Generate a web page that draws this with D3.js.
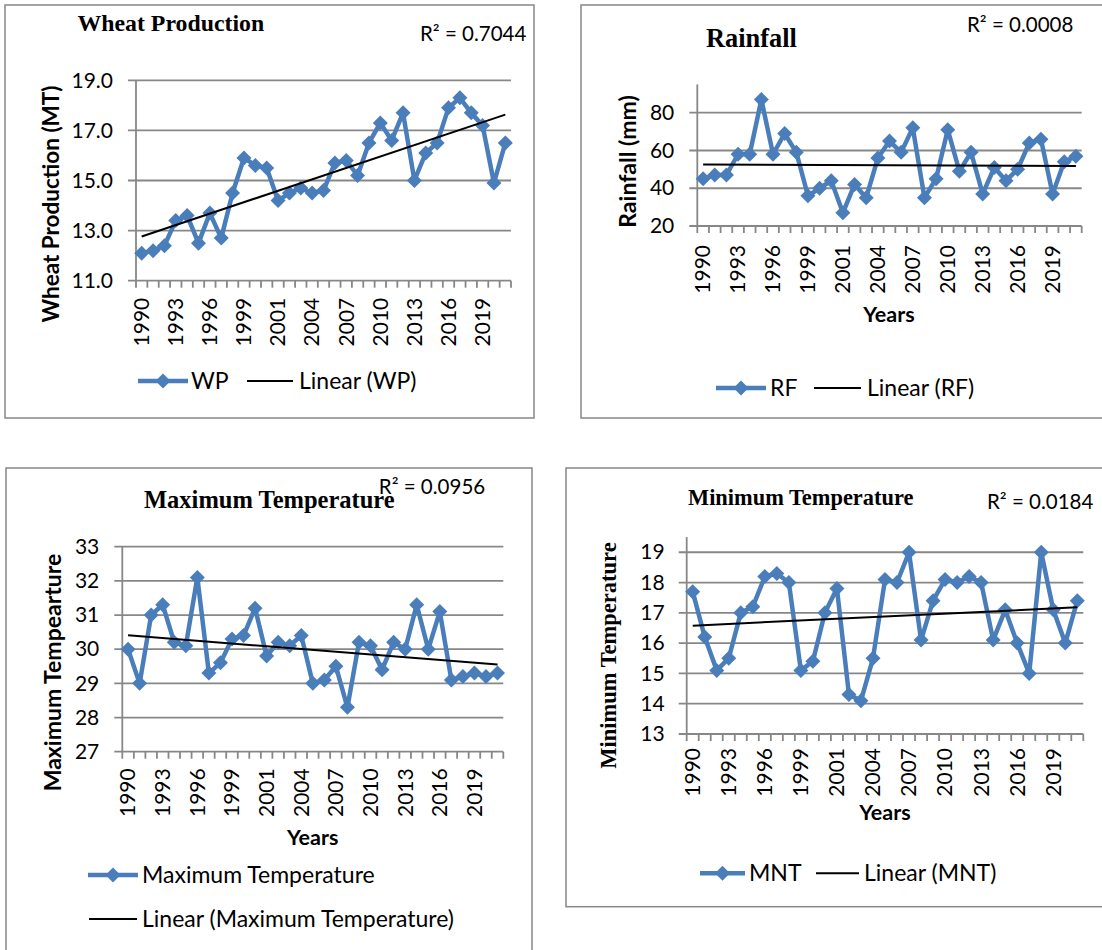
<!DOCTYPE html>
<html><head><meta charset="utf-8">
<script src="https://cdn.jsdelivr.net/npm/d3@7"></script>
<style>body{margin:0;background:#fff} svg{display:block}</style>
</head><body>
<svg id="c" width="1102" height="950"></svg>
<script>
// ---------- data ----------
const years = ["1990","1991","1992","1993","1994","1995","1996","1997","1998","1999","2000","2000",
  "2001","2002","2003","2004","2005","2006","2007","2008","2009","2010","2011","2012","2013","2014",
  "2015","2016","2017","2018","2019","2020","2021"];
const wheatProduction = [12.1,12.2,12.4,13.4,13.6,12.5,13.7,12.7,14.5,15.9,15.6,15.5,14.2,14.5,14.7,14.5,
  14.6,15.7,15.8,15.2,16.5,17.3,16.6,17.7,15.0,16.1,16.5,17.9,18.3,17.7,17.2,14.9,16.5];
const rainfall = [45,47,47,58,58,87,58,69,59,36,40,44,27,42,35,56,65,59,72,35,45,71,49,59,37,51,44,50,64,66,37,54,57];
const maxTemperature = [30.0,29.0,31.0,31.3,30.2,30.1,32.1,29.3,29.6,30.3,30.4,31.2,29.8,30.2,30.1,30.4,
  29.0,29.1,29.5,28.3,30.2,30.1,29.4,30.2,30.0,31.3,30.0,31.1,29.1,29.2,29.3,29.2,29.3];
const minTemperature = [17.7,16.2,15.1,15.5,17.0,17.2,18.2,18.3,18.0,15.1,15.4,17.0,17.8,14.3,14.1,15.5,
  18.1,18.0,19.0,16.1,17.4,18.1,18.0,18.2,18.0,16.1,17.1,16.0,15.0,19.0,17.1,16.0,17.4];
const wpTicks = [11,13,15,17,19];
const rfTicks = [20,40,60,80];
const maxTicks = [27,28,29,30,31,32,33];
const minTicks = [13,14,15,16,17,18,19];
const r2Labels = ["R² = 0.7044","R² = 0.0008","R² = 0.0956","R² = 0.0184"];
const titles = ["Wheat Production","Rainfall","Maximum Temperature","Minimum Temperature"];
const yTitles = ["Wheat Production (MT)","Rainfall (mm)","Maximum Tempearture","Minimum Temperature"];
const seriesNames = ["WP","RF","Maximum Temperature","MNT"];

// ---------- drawing ----------
const svg = d3.select("#c");
const BLUE = "#4A7EBB", GRID = "#878787";
const SANS = "Lato, 'Open Sans', sans-serif", SERIF = "'Liberation Serif', 'Times New Roman', serif";
const TICK_FS = 21, LEG_FS = 23, R2_FS = 20.5;

function diamond(r){ return `M0,${-r}L${r},0L0,${r}L${-r},0Z`; }

function fit(vals){
  const n = vals.length, xs = d3.range(n);
  const mx = d3.mean(xs), my = d3.mean(vals);
  let sxy = 0, sxx = 0;
  xs.forEach((x,i)=>{ sxy += (x-mx)*(vals[i]-my); sxx += (x-mx)*(x-mx); });
  const b = sxy/sxx, a = my - b*mx;
  return [a, a + b*(n-1)];
}

function panel(o){
  const g = svg.append("g");
  g.append("rect").attr("x",o.box[0]).attr("y",o.box[1]).attr("width",o.box[2]).attr("height",o.box[3])
    .attr("fill","none").attr("stroke",GRID).attr("stroke-width",1.5);

  const x = d3.scaleBand().domain(d3.range(years.length)).range([o.x0,o.x1]);
  const y = d3.scaleLinear().domain(o.domain).range([o.yb,o.yt]);
  const cx = i => x(i) + x.bandwidth()/2;

  g.append("g").selectAll("line").data(o.ticks).join("line")
    .attr("x1",o.x0-8).attr("x2",o.x1).attr("y1",d=>y(d)).attr("y2",d=>y(d))
    .attr("stroke",GRID).attr("stroke-width",1.8);
  g.append("line").attr("x1",o.x0).attr("x2",o.x0).attr("y1",o.yt).attr("y2",o.yb)
    .attr("stroke",GRID).attr("stroke-width",1.8);
  const ya = g.append("g").attr("transform",`translate(${o.x0},0)`)
    .call(d3.axisLeft(y).tickValues(o.ticks).tickSize(8).tickPadding(o.ypad).tickFormat(o.fmt));
  ya.select(".domain").remove();
  ya.selectAll("line").remove();
  ya.selectAll("text").attr("font-family",SANS).attr("font-size",TICK_FS).attr("fill","#000");
  g.append("g").selectAll("line").data(d3.range(years.length+1)).join("line")
    .attr("x1",i=>o.x0+i*x.bandwidth()).attr("x2",i=>o.x0+i*x.bandwidth())
    .attr("y1",o.yb).attr("y2",o.yb+7).attr("stroke",GRID).attr("stroke-width",1.8);
  const xa = g.append("g").attr("transform",`translate(0,${o.yb})`)
    .call(d3.axisBottom(x).tickValues(d3.range(0,years.length,3)).tickSize(0).tickFormat(i=>years[i]));
  xa.select(".domain").remove();
  xa.selectAll("text").attr("font-family",SANS).attr("font-size",TICK_FS).attr("fill","#000")
    .attr("transform","rotate(-90)").attr("text-anchor","end")
    .attr("x",-o.xgap).attr("y",0).attr("dy","0.35em");

  const t = fit(o.data);
  g.append("path").datum(o.data).attr("fill","none").attr("stroke",BLUE).attr("stroke-width",4.5)
    .attr("stroke-linejoin","round")
    .attr("d",d3.line().x((d,i)=>cx(i)).y(d=>y(d)));
  g.append("g").selectAll("path").data(o.data).join("path")
    .attr("transform",(d,i)=>`translate(${cx(i)},${y(d)})`).attr("d",diamond(7.5)).attr("fill",BLUE);
  g.append("line").attr("x1",cx(0)).attr("x2",cx(o.data.length-1)).attr("y1",y(t[0])).attr("y2",y(t[1]))
    .attr("stroke","#000").attr("stroke-width",2);

  g.append("text").attr("x",o.title[0]).attr("y",o.title[1]).attr("font-family",SERIF).attr("font-weight","bold")
    .attr("font-size",o.title[2]).text(o.titleText);
  g.append("text").attr("x",o.r2[0]).attr("y",o.r2[1]).attr("font-family",SANS).attr("font-size",R2_FS).text(o.r2Text);
  g.append("text").attr("transform",`translate(${o.yt2[0]},${o.yt2[1]}) rotate(-90)`).attr("text-anchor","middle")
    .attr("dy","0.35em").attr("font-family",o.yt2[3]||SANS).attr("font-weight","bold").attr("font-size",o.yt2[2])
    .text(o.yTitleText);
  if (o.years) g.append("text").attr("x",o.years[0]).attr("y",o.years[1]).attr("text-anchor","middle")
    .attr("font-family",SANS).attr("font-weight","bold").attr("font-size",21.5).text("Years");

  o.legend.forEach(L=>{
    g.append("line").attr("x1",L.l0).attr("x2",L.l1).attr("y1",L.y).attr("y2",L.y)
      .attr("stroke",L.series?BLUE:"#000").attr("stroke-width",L.series?4.5:2);
    if (L.series) g.append("path").attr("transform",`translate(${(L.l0+L.l1)/2},${L.y})`).attr("d",diamond(7.5)).attr("fill",BLUE);
    g.append("text").attr("x",L.tx).attr("y",L.y).attr("dy","0.35em").attr("font-family",SANS).attr("font-size",LEG_FS).text(L.text);
  });
}

panel({box:[5,5,529,413], x0:136, x1:511, yb:280.7, yt:80.3, domain:[11,19], ticks:wpTicks, fmt:d3.format(".1f"),
  ypad:15, xgap:17, data:wheatProduction,
  title:[77.5,31,23.8], titleText:titles[0], r2:[420,40.5], r2Text:r2Labels[0],
  yt2:[51.6,204,22.5], yTitleText:yTitles[0],
  legend:[{series:true,l0:138,l1:188,y:381,tx:191,text:seriesNames[0]},
          {series:false,l0:247,l1:293,y:381,tx:299,text:"Linear ("+seriesNames[0]+")"}]});

panel({box:[581,5,530,413], x0:697.3, x1:1081.7, yb:226, yt:84.4, domain:[20,95], ticks:rfTicks, fmt:d3.format("d"),
  ypad:15, xgap:19, data:rainfall,
  title:[706,47,26.4], titleText:titles[1], r2:[967,32], r2Text:r2Labels[1],
  yt2:[627.7,161.5,23], yTitleText:yTitles[1], years:[889,322],
  legend:[{series:true,l0:716,l1:766,y:388,tx:770,text:seriesNames[1]},
          {series:false,l0:814,l1:861,y:388,tx:867,text:"Linear ("+seriesNames[1]+")"}]});

panel({box:[6,468,526,500], x0:122.3, x1:503.3, yb:751.7, yt:546.7, domain:[27,33], ticks:maxTicks, fmt:d3.format("d"),
  ypad:15, xgap:16.6, data:maxTemperature,
  title:[144,507.7,24.5], titleText:titles[2], r2:[378.8,494], r2Text:r2Labels[2],
  yt2:[53.4,672.5,23], yTitleText:yTitles[2], years:[312.7,845],
  legend:[{series:true,l0:88,l1:138,y:875,tx:142,text:seriesNames[2]},
          {series:false,l0:89,l1:137,y:919,tx:142,text:"Linear ("+seriesNames[2]+")"}]});

panel({box:[566,468,545,438.7], x0:686.7, x1:1083.3, yb:734, yt:537.1, domain:[13,19.5], ticks:minTicks, fmt:d3.format("d"),
  ypad:14, xgap:14, data:minTemperature,
  title:[688,505,22.4], titleText:titles[3], r2:[987,509], r2Text:r2Labels[3],
  yt2:[608.4,655.6,22.5,SERIF], yTitleText:yTitles[3], years:[885,820],
  legend:[{series:true,l0:700,l1:745,y:873.3,tx:749,text:seriesNames[3]},
          {series:false,l0:816,l1:859,y:873.3,tx:864,text:"Linear ("+seriesNames[3]+")"}]});
</script>
</body></html>
